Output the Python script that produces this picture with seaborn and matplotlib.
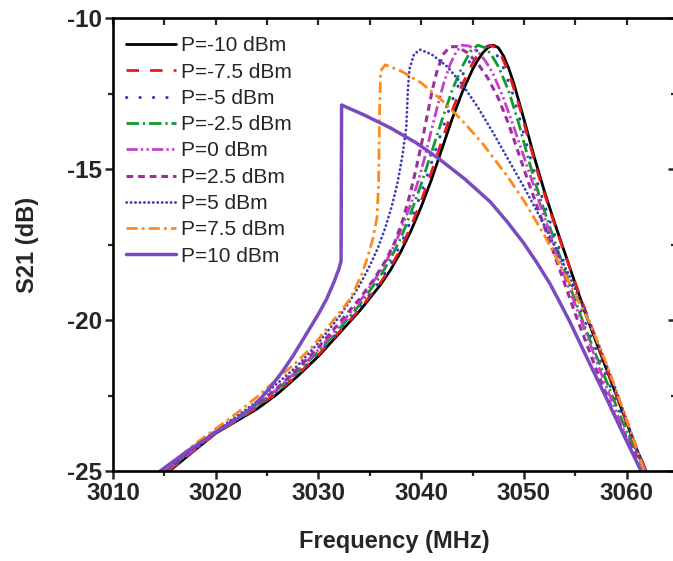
import matplotlib
matplotlib.use("Agg")
import matplotlib.pyplot as plt
from matplotlib.ticker import MultipleLocator
import seaborn as sns

# S21 vs frequency for each drive power
FREQ_M10 = [3015.5, 3018, 3020, 3022, 3024, 3026, 3028, 3030, 3032, 3034, 3036, 3037, 3038, 3039,
            3040, 3041, 3042, 3043, 3044, 3045, 3045.5, 3046, 3046.5, 3047, 3047.5, 3048, 3048.5,
            3049, 3050, 3051, 3052, 3053, 3054, 3055, 3056, 3057, 3058, 3059, 3060, 3061, 3062]
S21_M10 = [-25.0, -24.3, -23.75, -23.35, -22.95, -22.45, -21.85, -21.2, -20.45, -19.7, -18.85,
           -18.35, -17.75, -17.05, -16.25, -15.35, -14.35, -13.35, -12.45, -11.7, -11.4, -11.15,
           -10.98, -10.9, -10.98, -11.25, -11.65, -12.15, -13.35, -14.6, -15.75, -16.8, -17.8, -18.8,
           -19.8, -20.7, -21.6, -22.5, -23.4, -24.3, -25.1]

FREQ_M75 = [3015.4, 3018, 3020, 3022, 3024, 3026, 3028, 3030, 3032, 3034, 3036, 3037, 3038, 3039,
            3040, 3041, 3042, 3043, 3044, 3045, 3045.5, 3046, 3046.7, 3047.2, 3047.8, 3048.5, 3049.5,
            3050.5, 3051.5, 3052.5, 3053.5, 3054.5, 3055.5, 3056.5, 3058, 3060, 3062]
S21_M75 = [-25.0, -24.3, -23.75, -23.35, -22.9, -22.4, -21.8, -21.15, -20.4, -19.65, -18.78, -18.26,
           -17.64, -16.9, -16.05, -15.1, -14.08, -13.08, -12.2, -11.5, -11.22, -11.0, -10.9, -10.97,
           -11.25, -11.8, -12.85, -14.1, -15.3, -16.35, -17.35, -18.3, -19.25, -20.15, -21.55, -23.4,
           -25.1]

FREQ_M5 = [3015.3, 3018, 3020, 3022, 3024, 3026, 3028, 3030, 3032, 3034, 3036, 3037, 3038, 3039,
           3040, 3041, 3042, 3043, 3044, 3045, 3045.6, 3046.2, 3046.8, 3047.4, 3048, 3049, 3050,
           3051, 3052, 3053, 3054, 3055, 3056, 3058, 3060, 3062]
S21_M5 = [-25.0, -24.3, -23.7, -23.3, -22.9, -22.35, -21.75, -21.1, -20.35, -19.6, -18.7, -18.15,
          -17.5, -16.7, -15.8, -14.8, -13.75, -12.75, -11.9, -11.25, -11.0, -10.9, -10.98, -11.25,
          -11.65, -12.6, -13.85, -15.1, -16.2, -17.2, -18.2, -19.15, -20.1, -21.85, -23.6, -25.1]

FREQ_M25 = [3015.2, 3018, 3020, 3022, 3024, 3026, 3028, 3030, 3032, 3034, 3036, 3037, 3038, 3039,
            3040, 3041, 3042, 3043, 3044, 3044.8, 3045.5, 3046.2, 3046.8, 3047.5, 3048.5, 3049.5,
            3050.5, 3051.5, 3052.5, 3053.5, 3054.5, 3056, 3058, 3060, 3062]
S21_M25 = [-25.0, -24.25, -23.7, -23.3, -22.85, -22.3, -21.7, -21.05, -20.3, -19.5, -18.55, -17.98,
           -17.3, -16.45, -15.5, -14.45, -13.4, -12.4, -11.6, -11.1, -10.9, -10.98, -11.2, -11.6,
           -12.4, -13.5, -14.75, -15.9, -16.9, -17.9, -18.9, -20.3, -22.0, -23.7, -25.1]

FREQ_0 = [3015.1, 3018, 3020, 3022, 3024, 3026, 3028, 3030, 3032, 3034, 3036, 3037, 3038, 3039,
          3039.8, 3040.4, 3041, 3041.6, 3042.2, 3042.8, 3043.4, 3044, 3044.7, 3045.5, 3046.3, 3047,
          3048, 3049, 3050, 3051, 3052, 3053, 3054, 3056, 3058, 3060, 3061.9]
S21_0 = [-25.0, -24.25, -23.7, -23.28, -22.82, -22.28, -21.65, -20.98, -20.2, -19.4, -18.4, -17.8,
         -17.05, -16.15, -15.3, -14.55, -13.7, -12.9, -12.15, -11.55, -11.12, -10.9, -10.93, -11.1,
         -11.45, -11.85, -12.65, -13.6, -14.6, -15.6, -16.6, -17.6, -18.6, -20.4, -22.2, -23.9, -25.0]

FREQ_P25 = [3015.0, 3018, 3020, 3022, 3024, 3026, 3028, 3030, 3032, 3034, 3035.5, 3036.5, 3037.4,
            3038.2, 3038.9, 3039.5, 3040.1, 3040.6, 3041.1, 3041.6, 3042.2, 3042.8, 3043.5, 3044.5,
            3045.5, 3046.5, 3047.5, 3048.5, 3049.5, 3050.5, 3051.5, 3052.5, 3053.5, 3055, 3057,
            3059, 3061.8]
S21_P25 = [-25.0, -24.2, -23.7, -23.25, -22.8, -22.25, -21.6, -20.9, -20.1, -19.3, -18.6, -18.05,
           -17.45, -16.7, -15.85, -15.0, -14.05, -13.2, -12.35, -11.68, -11.18, -10.95, -10.95,
           -11.15, -11.5, -12.0, -12.65, -13.5, -14.5, -15.5, -16.45, -17.4, -18.35, -19.8, -21.6,
           -23.3, -25.0]

FREQ_P5 = [3014.9, 3018, 3020, 3022, 3024, 3026, 3028, 3030, 3032, 3033, 3034, 3035, 3035.8,
           3036.5, 3037.2, 3037.7, 3038.2, 3038.55, 3038.7, 3038.85, 3039.3, 3039.9, 3041, 3042.5,
           3044, 3045.5, 3047, 3048.5, 3050, 3051.5, 3053, 3054.5, 3056, 3057.5, 3059, 3060.4,
           3061.7]
S21_P5 = [-25.0, -24.2, -23.65, -23.2, -22.7, -22.1, -21.5, -20.75, -19.9, -19.4, -18.85, -18.2,
          -17.6, -16.95, -16.15, -15.45, -14.5, -13.6, -12.4, -11.7, -11.2, -11.05, -11.2, -11.6,
          -12.2, -12.95, -13.8, -14.7, -15.6, -16.55, -17.55, -18.6, -19.75, -21.0, -22.35, -23.7,
          -25.0]

FREQ_P75 = [3014.8, 3018, 3020, 3022, 3024, 3026, 3028, 3029.5, 3031, 3033.1, 3034.2, 3034.8,
            3035.3, 3035.7, 3035.85, 3035.95, 3036.05, 3036.5, 3038, 3040, 3042, 3044, 3046, 3048.3,
            3050, 3052, 3054, 3056.4, 3058.2, 3060, 3061.7]
S21_P75 = [-25.0, -24.1, -23.6, -23.1, -22.55, -21.95, -21.35, -20.85, -20.2, -19.3, -18.5, -17.9,
           -17.3, -16.6, -15.5, -13.0, -11.75, -11.55, -11.75, -12.15, -12.72, -13.4, -14.17, -15.2,
           -16.05, -17.2, -18.5, -20.1, -21.6, -23.3, -25.0]

FREQ_P10 = [3014.6, 3016, 3017.5, 3019, 3020.1, 3021.3, 3022.4, 3023.5, 3024.5, 3025.5, 3026.5,
            3027.5, 3028.4, 3029.2, 3030.0, 3030.8, 3031.5, 3032.0, 3032.2, 3032.25, 3034.5, 3037,
            3039.5, 3041.8, 3044.2, 3046.7, 3048.3, 3049.9, 3051.2, 3052.5, 3053.5, 3054.5, 3056.2,
            3058, 3059.7, 3061.4]
S21_P10 = [-25.0, -24.65, -24.28, -23.95, -23.7, -23.45, -23.2, -22.9, -22.55, -22.15, -21.7, -21.2,
           -20.7, -20.25, -19.8, -19.3, -18.75, -18.3, -18.05, -12.88, -13.22, -13.64, -14.13, -14.68,
           -15.32, -16.08, -16.72, -17.42, -18.07, -18.78, -19.42, -20.08, -21.3, -22.57, -23.8, -25.0]

LABELS = ["P=-10 dBm", "P=-7.5 dBm", "P=-5 dBm", "P=-2.5 dBm", "P=0 dBm",
          "P=2.5 dBm", "P=5 dBm", "P=7.5 dBm", "P=10 dBm"]
SERIES = [(FREQ_M10, S21_M10), (FREQ_M75, S21_M75), (FREQ_M5, S21_M5), (FREQ_M25, S21_M25),
          (FREQ_0, S21_0), (FREQ_P25, S21_P25), (FREQ_P5, S21_P5), (FREQ_P75, S21_P75),
          (FREQ_P10, S21_P10)]

# colour, dash pattern, width, cap style
STYLES = {
    "P=-10 dBm": ("#000000", "-", 2.0, "butt"),
    "P=-7.5 dBm": ("#F01818", (0, (4.5, 4.0)), 2.0, "butt"),
    "P=-5 dBm": ("#2F3FC8", (0, (0.1, 4.3)), 2.2, "round"),
    "P=-2.5 dBm": ("#14992E", (0, (4.5, 1.4, 0.8, 1.4)), 2.0, "butt"),
    "P=0 dBm": ("#C542C8", (0, (4.0, 1.2, 0.8, 1.2, 0.8, 1.2)), 2.0, "butt"),
    "P=2.5 dBm": ("#9C2E9E", (0, (2.2, 1.6)), 2.2, "butt"),
    "P=5 dBm": ("#3C40B8", (0, (0.1, 1.5)), 2.0, "round"),
    "P=7.5 dBm": ("#FF8A1A", (0, (4.0, 1.5, 1.0, 1.5)), 2.0, "butt"),
    "P=10 dBm": ("#7A4BC0", "-", 2.5, "butt"),
}

sns.set_style("ticks")
plt.rcParams["font.family"] = ["Liberation Sans", "DejaVu Sans"]
plt.rcParams["axes.unicode_minus"] = False

fig = plt.figure(figsize=(6.73, 5.61), dpi=100)
ax = fig.add_axes([113 / 673, 90 / 561, 563 / 673, 453 / 561])

for label, (freq, s21) in zip(LABELS, SERIES):
    color, ls, lw, cap = STYLES[label]
    sns.lineplot(x=freq, y=s21, ax=ax, color=color, linestyle=ls, linewidth=lw,
                 dash_capstyle=cap, label=label, sort=False, estimator=None)

ax.set_xlim(3010, 3064.8)
ax.set_ylim(-25, -10)
ax.xaxis.set_major_locator(MultipleLocator(10))
ax.xaxis.set_minor_locator(MultipleLocator(5))
ax.yaxis.set_major_locator(MultipleLocator(5))
ax.yaxis.set_minor_locator(MultipleLocator(2.5))

for side in ax.spines.values():
    side.set_linewidth(1.9)
    side.set_color("black")
ax.tick_params(which="major", direction="out", length=6, width=1.8, labelsize=17.5, pad=2)
ax.tick_params(which="minor", direction="out", length=3.5, width=1.6)
for lbl in ax.get_xticklabels() + ax.get_yticklabels():
    lbl.set_fontweight("bold")

top = ax.secondary_xaxis("top")
top.xaxis.set_major_locator(MultipleLocator(5))
top.tick_params(direction="in", length=5, width=1.6, labeltop=False)
right = ax.secondary_yaxis("right")
right.yaxis.set_major_locator(MultipleLocator(5))
right.yaxis.set_minor_locator(MultipleLocator(2.5))
right.tick_params(which="major", direction="in", length=6, width=1.8, labelright=False)
right.tick_params(which="minor", direction="in", length=3.5, width=1.6)

ax.set_xlabel("Frequency (MHz)", fontsize=17, fontweight="bold", labelpad=18)
ax.set_ylabel("S21 (dB)", fontsize=17, fontweight="bold", labelpad=20)

ax.legend(loc="upper left", bbox_to_anchor=(4.5 / 563, 1 - 10 / 453), frameon=False,
          fontsize=15, handlelength=2.4, handletextpad=0.25, labelspacing=0.35,
          borderpad=0.4, borderaxespad=0)

fig.savefig("out.png", dpi=100)
